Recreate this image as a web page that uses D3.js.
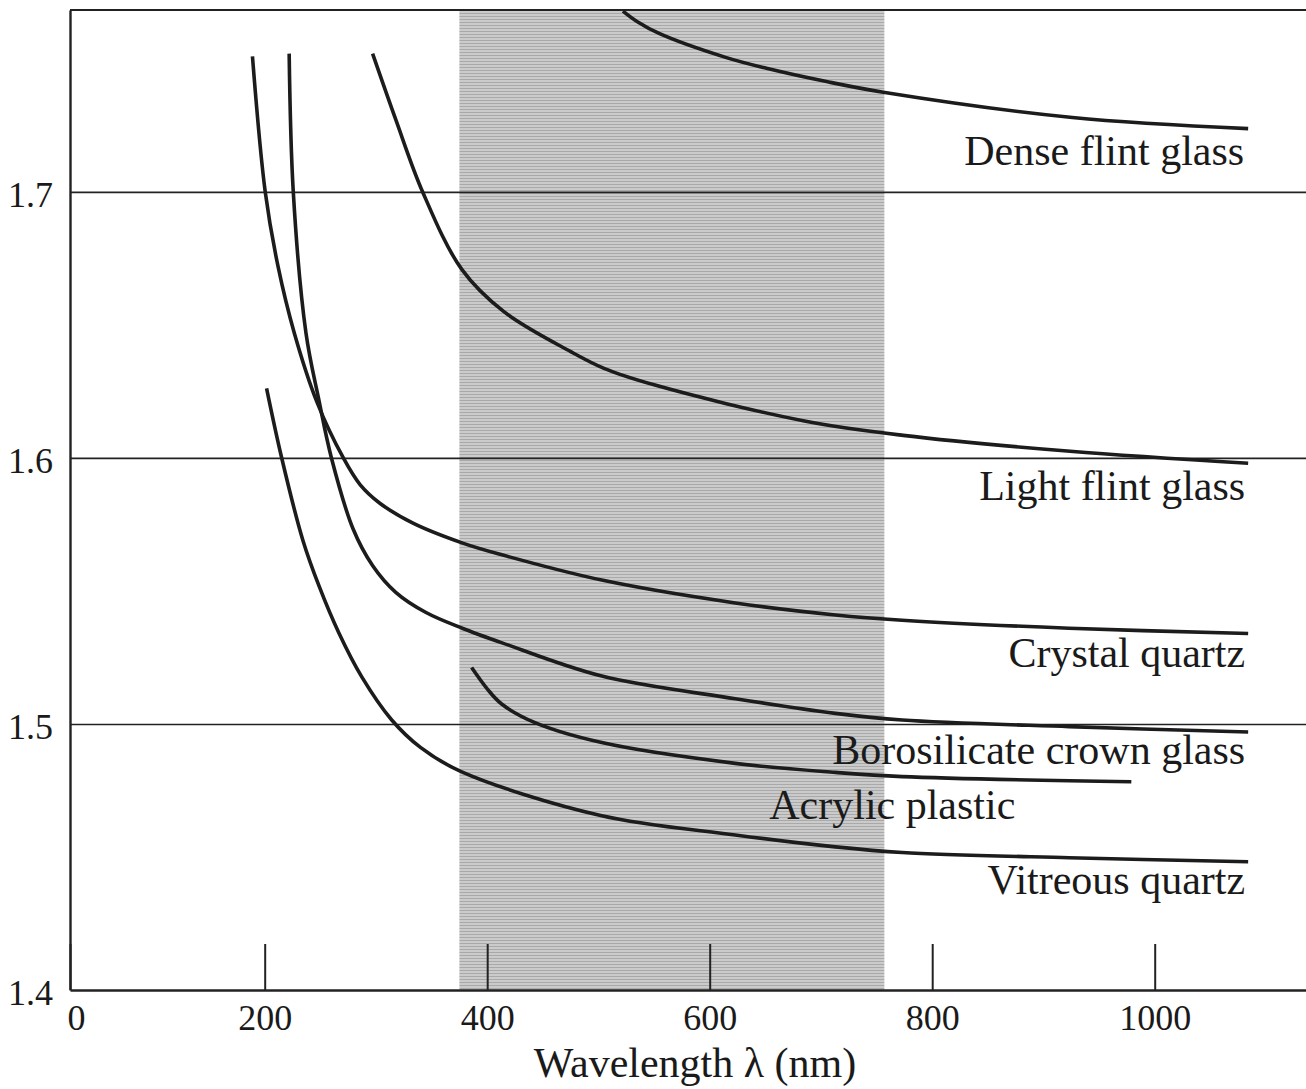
<!DOCTYPE html>
<html>
<head>
<meta charset="utf-8">
<script src="https://cdn.jsdelivr.net/npm/d3@7"></script>
<style>
  body { margin: 0; background: #fff; }
  svg { display: block; font-family: 'Liberation Serif', 'DejaVu Serif', serif; }
</style>
</head>
<body>
<script>
// refractive index n against wavelength (nm)
const materials = ['Dense flint glass', 'Light flint glass', 'Crystal quartz',
  'Borosilicate crown glass', 'Acrylic plastic', 'Vitreous quartz'];

const denseFlintWl = [522, 535, 555, 615, 651, 705, 756, 926, 1084];
const denseFlintN  = [1.768, 1.764, 1.7595, 1.7505, 1.7465, 1.7415, 1.7375, 1.728, 1.7238];

const lightFlintWl = [297, 318, 342, 377, 415, 475, 505, 550, 684, 774, 924, 1084];
const lightFlintN  = [1.752, 1.727, 1.700, 1.671, 1.655, 1.640, 1.6337, 1.6275, 1.614, 1.6085, 1.6025, 1.598];

const crystalWl = [189, 200.5, 212, 226.6, 247, 270.7, 285.7, 303.5, 333.3, 378, 414, 504, 623, 713, 773, 923, 1084];
const crystalN  = [1.751, 1.700, 1.672, 1.647, 1.621, 1.600, 1.590, 1.583, 1.5755, 1.568, 1.5635, 1.554, 1.5455, 1.541, 1.539, 1.536, 1.534];

const boroWl = [222, 225.7, 237.1, 248.6, 260, 279.3, 297.1, 317.8, 344.6, 377.5, 413.4, 503, 623, 713, 773, 923, 1084];
const boroN  = [1.752, 1.700, 1.647, 1.622, 1.600, 1.5735, 1.5595, 1.5495, 1.542, 1.536, 1.5305, 1.518, 1.5095, 1.504, 1.5015, 1.499, 1.497];

const acrylicWl = [386, 400, 413, 443, 503, 623, 713, 773, 979];
const acrylicN  = [1.5212, 1.5132, 1.5075, 1.5005, 1.493, 1.4852, 1.4818, 1.4802, 1.4783];

const vitreousWl = [201.7, 215.3, 234.3, 249, 266.7, 287.4, 314, 340, 376.6, 502, 623, 713, 773, 923, 1084];
const vitreousN  = [1.6262, 1.600, 1.5691, 1.5517, 1.5342, 1.5176, 1.5016, 1.4912, 1.4821, 1.4656, 1.4583, 1.4538, 1.4517, 1.4497, 1.4482];

const visibleBand = [375, 757];
const wavelengthTicks = [200, 400, 600, 800, 1000];
const xTickLabels = ['0', '200', '400', '600', '800', '1000'];
const indexTicks = [1.4, 1.5, 1.6, 1.7];
const gridTicks = [1.5, 1.6, 1.7];

const seriesWl = [denseFlintWl, lightFlintWl, crystalWl, boroWl, acrylicWl, vitreousWl];
const seriesN = [denseFlintN, lightFlintN, crystalN, boroN, acrylicN, vitreousN];

// label placement relative to the end of each curve
const labelOffsets = [
  { dx: -4, dy: 36 }, { dx: -3, dy: 37 }, { dx: -3, dy: 33 },
  { dx: -3, dy: 32 }, { dx: -116, dy: 37 }, { dx: -3, dy: 32 }
];

const width = 1306;
const height = 1089;

const svg = d3.select('body').append('svg').attr('width', width).attr('height', height);

const x = d3.scaleLinear().domain([25, 1136]).range([70, 1306]);
const y = d3.scaleLinear().domain([1.4, 1.7684]).range([990, 10]);

// textured grey band for the visible region
const defs = svg.append('defs');
const pat = defs.append('pattern')
  .attr('id', 'screen').attr('patternUnits', 'userSpaceOnUse')
  .attr('width', 6).attr('height', 3);
pat.append('rect').attr('width', 6).attr('height', 3).attr('fill', '#cbcbcb');
pat.append('rect').attr('y', 1).attr('width', 6).attr('height', 1).attr('fill', '#a9a9a9');

svg.append('rect')
  .attr('x', x(visibleBand[0]))
  .attr('y', y.range()[1])
  .attr('width', x(visibleBand[1]) - x(visibleBand[0]))
  .attr('height', y.range()[0] - y.range()[1])
  .attr('fill', 'url(#screen)');

// horizontal grid lines
svg.append('g')
  .attr('transform', 'translate(' + x.range()[0] + ',0)')
  .call(d3.axisLeft(y).tickValues(gridTicks).tickFormat('')
    .tickSizeInner(-(x.range()[1] - x.range()[0])).tickSizeOuter(0))
  .call(g => g.select('.domain').remove())
  .call(g => g.selectAll('line').attr('stroke', '#222').attr('stroke-width', 1.7));

// top border
svg.append('line')
  .attr('x1', x.range()[0]).attr('x2', x.range()[1])
  .attr('y1', y.range()[1]).attr('y2', y.range()[1])
  .attr('stroke', '#222').attr('stroke-width', 2);

// x axis with inward ticks
const xAxis = svg.append('g')
  .attr('transform', 'translate(0,' + y(1.4) + ')')
  .call(d3.axisBottom(x)
    .tickValues([x.domain()[0]].concat(wavelengthTicks))
    .tickFormat((d, i) => xTickLabels[i])
    .tickSizeInner(-46).tickSizeOuter(0).tickPadding(14));
xAxis.select('.domain').attr('stroke', '#222').attr('stroke-width', 2.4);
xAxis.selectAll('line').attr('stroke', '#222').attr('stroke-width', 2);
xAxis.selectAll('text')
  .attr('font-family', "'Liberation Serif', serif")
  .attr('font-size', 36).attr('fill', '#1a1a1a');
xAxis.select('.tick text').attr('dx', 6);

// y axis
const yAxis = svg.append('g')
  .attr('transform', 'translate(' + x.range()[0] + ',0)')
  .call(d3.axisLeft(y).tickValues(indexTicks).tickFormat(d3.format('.1f'))
    .tickSize(0).tickPadding(17));
yAxis.select('.domain').attr('stroke', '#222').attr('stroke-width', 2.4);
yAxis.selectAll('text')
  .attr('font-family', "'Liberation Serif', serif")
  .attr('font-size', 36).attr('fill', '#1a1a1a').attr('dy', '0.4em');

// curves
const line = d3.line()
  .x(d => x(d[0]))
  .y(d => y(d[1]))
  .curve(d3.curveCatmullRom.alpha(0.5));

const curves = materials.map((name, i) => ({
  name: name,
  points: seriesWl[i].map((w, j) => [w, seriesN[i][j]])
}));

svg.append('g')
  .selectAll('path')
  .data(curves)
  .enter()
  .append('path')
  .attr('d', d => line(d.points))
  .attr('fill', 'none')
  .attr('stroke', '#1c1c1c')
  .attr('stroke-width', 3.6)
  .attr('stroke-linecap', 'butt');

// curve labels
svg.append('g')
  .selectAll('text')
  .data(curves)
  .enter()
  .append('text')
  .attr('x', (d, i) => x(d.points[d.points.length - 1][0]) + labelOffsets[i].dx)
  .attr('y', (d, i) => y(d.points[d.points.length - 1][1]) + labelOffsets[i].dy)
  .attr('text-anchor', 'end')
  .attr('font-size', 42)
  .attr('fill', '#1a1a1a')
  .text(d => d.name);

// axis title
svg.append('text')
  .attr('x', 695)
  .attr('y', 1077)
  .attr('text-anchor', 'middle')
  .attr('font-size', 42)
  .attr('fill', '#1a1a1a')
  .text('Wavelength λ (nm)');
</script>
</body>
</html>
